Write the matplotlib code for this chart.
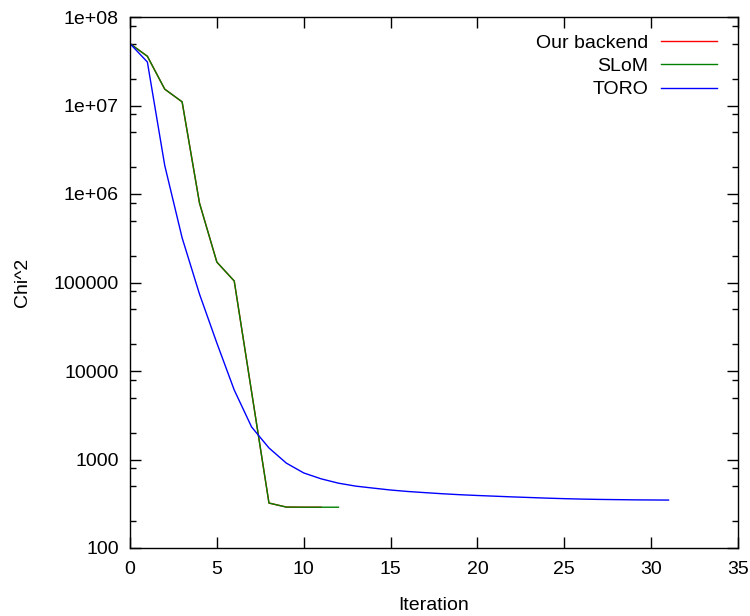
import matplotlib
matplotlib.use("Agg")
import matplotlib.pyplot as plt
from matplotlib.ticker import LogLocator, NullFormatter

plt.rcParams['font.family'] = ['Liberation Sans', 'DejaVu Sans']

# Data
ours_x = list(range(0, 12))
ours_y = [5.0e7, 3.6e7, 1.53e7, 1.1e7, 7.9e5, 1.7e5, 1.04e5, 5.8e3, 322, 290, 289, 289]
slom_x = list(range(0, 13))
slom_y = [5.0e7, 3.6e7, 1.53e7, 1.1e7, 7.9e5, 1.7e5, 1.04e5, 5.8e3, 322, 290, 289, 289, 289]
toro_x = list(range(0, 32))
toro_y = [5.0e7, 3.1e7, 2.1e6, 3.2e5, 7.4e4, 2.07e4, 6.1e3, 2330, 1350, 910, 705,
          605, 540, 500, 475, 452, 435, 422, 410, 400, 392, 385, 378, 372, 366,
          361, 357, 354, 352, 350, 349, 348]

xticks = [0, 5, 10, 15, 20, 25, 30, 35]
yticks = [1e2, 1e3, 1e4, 1e5, 1e6, 1e7, 1e8]
ytick_labels = ['100', '1000', '10000', '100000', '1e+06', '1e+07', '1e+08']

fs = 14
fig = plt.figure(figsize=(7.5, 6.16), dpi=100)
ax = fig.add_axes([130/750, 1-548/616, 608/750, 531/616])

ax.plot(ours_x, ours_y, color='#ff0000', lw=1.0, label='Our backend')
ax.plot(slom_x, slom_y, color='#008000', lw=1.0, label='SLoM')
ax.plot(toro_x, toro_y, color='#0000ff', lw=1.0, label='TORO')

ax.set_yscale('log')
ax.set_xlim(0, 35)
ax.set_ylim(100, 1e8)
ax.set_xticks(xticks)
ax.set_xticklabels([str(t) for t in xticks], fontsize=fs)
ax.set_yticks(yticks)
ax.set_yticklabels(ytick_labels, fontsize=fs)
ax.yaxis.set_minor_locator(LogLocator(base=10, subs=[2, 5, 8], numticks=20))
ax.yaxis.set_minor_formatter(NullFormatter())

ax.tick_params(which='both', direction='in', top=True, right=True, width=1.0, color='black')
ax.tick_params(which='major', length=8)
ax.tick_params(which='minor', length=4)
ax.tick_params(axis='y', which='major', pad=8)
ax.tick_params(axis='x', which='major', pad=9)
for s in ax.spines.values():
    s.set_linewidth(1.0)

ax.set_xlabel('Iteration', fontsize=fs)
ax.set_ylabel('Chi^2', fontsize=fs)
ax.xaxis.set_label_coords(0.5, -0.092)
ax.yaxis.set_label_coords(-0.163, 0.5)

leg = ax.legend(loc='upper right', bbox_to_anchor=(0.9655, 0.968), frameon=False,
                markerfirst=False, fontsize=fs, handlelength=2.9, handletextpad=0.62,
                labelspacing=0.30, borderpad=0, borderaxespad=0)

fig.savefig('out.png', dpi=100)
